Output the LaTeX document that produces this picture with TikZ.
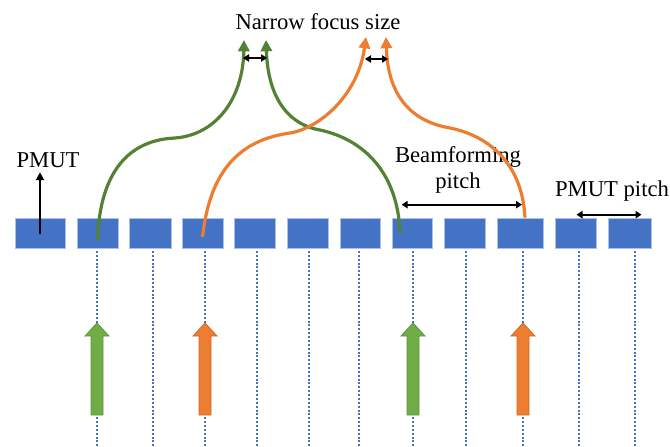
\documentclass[tikz,border=0pt]{standalone}
\usepackage{fontspec}
\setmainfont{Liberation Serif}
\usetikzlibrary{arrows.meta,positioning,calc}
\definecolor{pmutblue}{HTML}{4472C4}
\definecolor{beamgreen}{HTML}{70AD47}
\definecolor{curvegreen}{HTML}{548235}
\definecolor{beamorange}{HTML}{ED7D31}

\begin{document}
\begin{tikzpicture}[
    x=0.75pt, y=-0.75pt,
    every node/.style={align=center, font=\fontsize{17}{19}\selectfont},
    cell/.style={draw=pmutblue!45!white, line width=0.5pt, fill=pmutblue, minimum height=22.5pt, inner sep=0pt},
    dotline/.style={pmutblue, line width=1.7pt, dash pattern=on 1.5pt off 1.4pt},
    beam/.style={line width=2.4pt, -{Triangle[length=8.5pt, width=8.5pt]}},
    dim/.style={{Triangle[length=4.5pt, width=5.5pt]}-{Triangle[length=4.5pt, width=5.5pt]}, line width=1.4pt},
    pulse/.style={line width=0.6pt}
]
    \useasboundingbox (0,0) rectangle (670,446);

    % PMUT array
    \foreach \i/\l/\r in {1/15/65, 2/77/118, 3/129/171, 4/182/223, 5/234/275, 6/287/328,
                          7/340/380, 8/392/432, 9/444/485, 10/497/543, 11/555/596, 12/608/651}
        \node[cell, minimum width={(\r-\l)*0.75pt}] (b\i) at ({(\l+\r)/2}, 233) {};

    % dotted columns
    \foreach \i/\x in {2/97, 3/153, 4/205, 5/257, 6/309, 7/359, 8/413, 9/466, 10/523, 11/579, 12/635}
        \draw[dotline] (\x, 251) -- (\x, 446);

    % excitation arrows
    \foreach \x/\c in {97/beamgreen, 205/beamorange, 413/beamgreen, 523/beamorange}
        \filldraw[pulse, fill=\c, draw=\c!85!black] (\x-6,415) -- (\x-6,336) -- (\x-12,336) -- (\x,323)
            -- (\x+12,336) -- (\x+6,336) -- (\x+6,415) -- cycle;

    % labels
    \node (focus) at (318,22) {Narrow focus size};
    \node (pmut) at (48,160) {PMUT};
    \node (bfpitch) at (458,170) {Beamforming\\pitch};
    \node (cellpitch) at (612,191) {PMUT pitch};

    \draw[line width=1.5pt, -{Triangle[length=6pt, width=6pt]}] ($(b1.center)+(0,1)$) -- (b1.center |- pmut.south);

    % focus tips
    \coordinate (gtipL) at (244,40);
    \coordinate (gtipR) at (266,40);
    \coordinate (otipL) at (366,37);
    \coordinate (otipR) at (386,37);

    % beams
    \draw[beam, curvegreen] ($(b2.center)+(0,7)$) .. controls (100,170) and (130,140) .. (175,138)
        .. controls (215,135) and (243,100) .. (gtipL);
    \draw[beam, curvegreen] ($(b8.center)+(-12,0)$) .. controls (398,175) and (366,140) .. (320,130)
        .. controls (290,125) and (268,100) .. (gtipR);
    \draw[beam, beamorange] ($(b4.center)+(0,4)$) .. controls (210,170) and (240,140) .. (290,133)
        .. controls (320,128) and (358,95) .. (otipL);
    \draw[beam, beamorange] ($(b10.north)+(5,0)$) .. controls (522,160) and (485,135) .. (450,128)
        .. controls (415,122) and (388,100) .. (otipR);

    % dimensions
    \coordinate (gfocL) at (243,58);
    \coordinate (gfocR) at (267,58);
    \coordinate (ofocL) at (365,59);
    \coordinate (ofocR) at (388,59);
    \draw[dim] (gfocL) -- (gfocR);
    \draw[dim] (ofocL) -- (ofocR);
    \draw[dim] ($(b8.north west)+(10,-13)$) -- ($(b10.north)+(2,-13)$);
    \draw[dim] ($(b11.north)+(1,-3)$) -- ($(b12.north)+(12,-3)$);
\end{tikzpicture}
\end{document}
